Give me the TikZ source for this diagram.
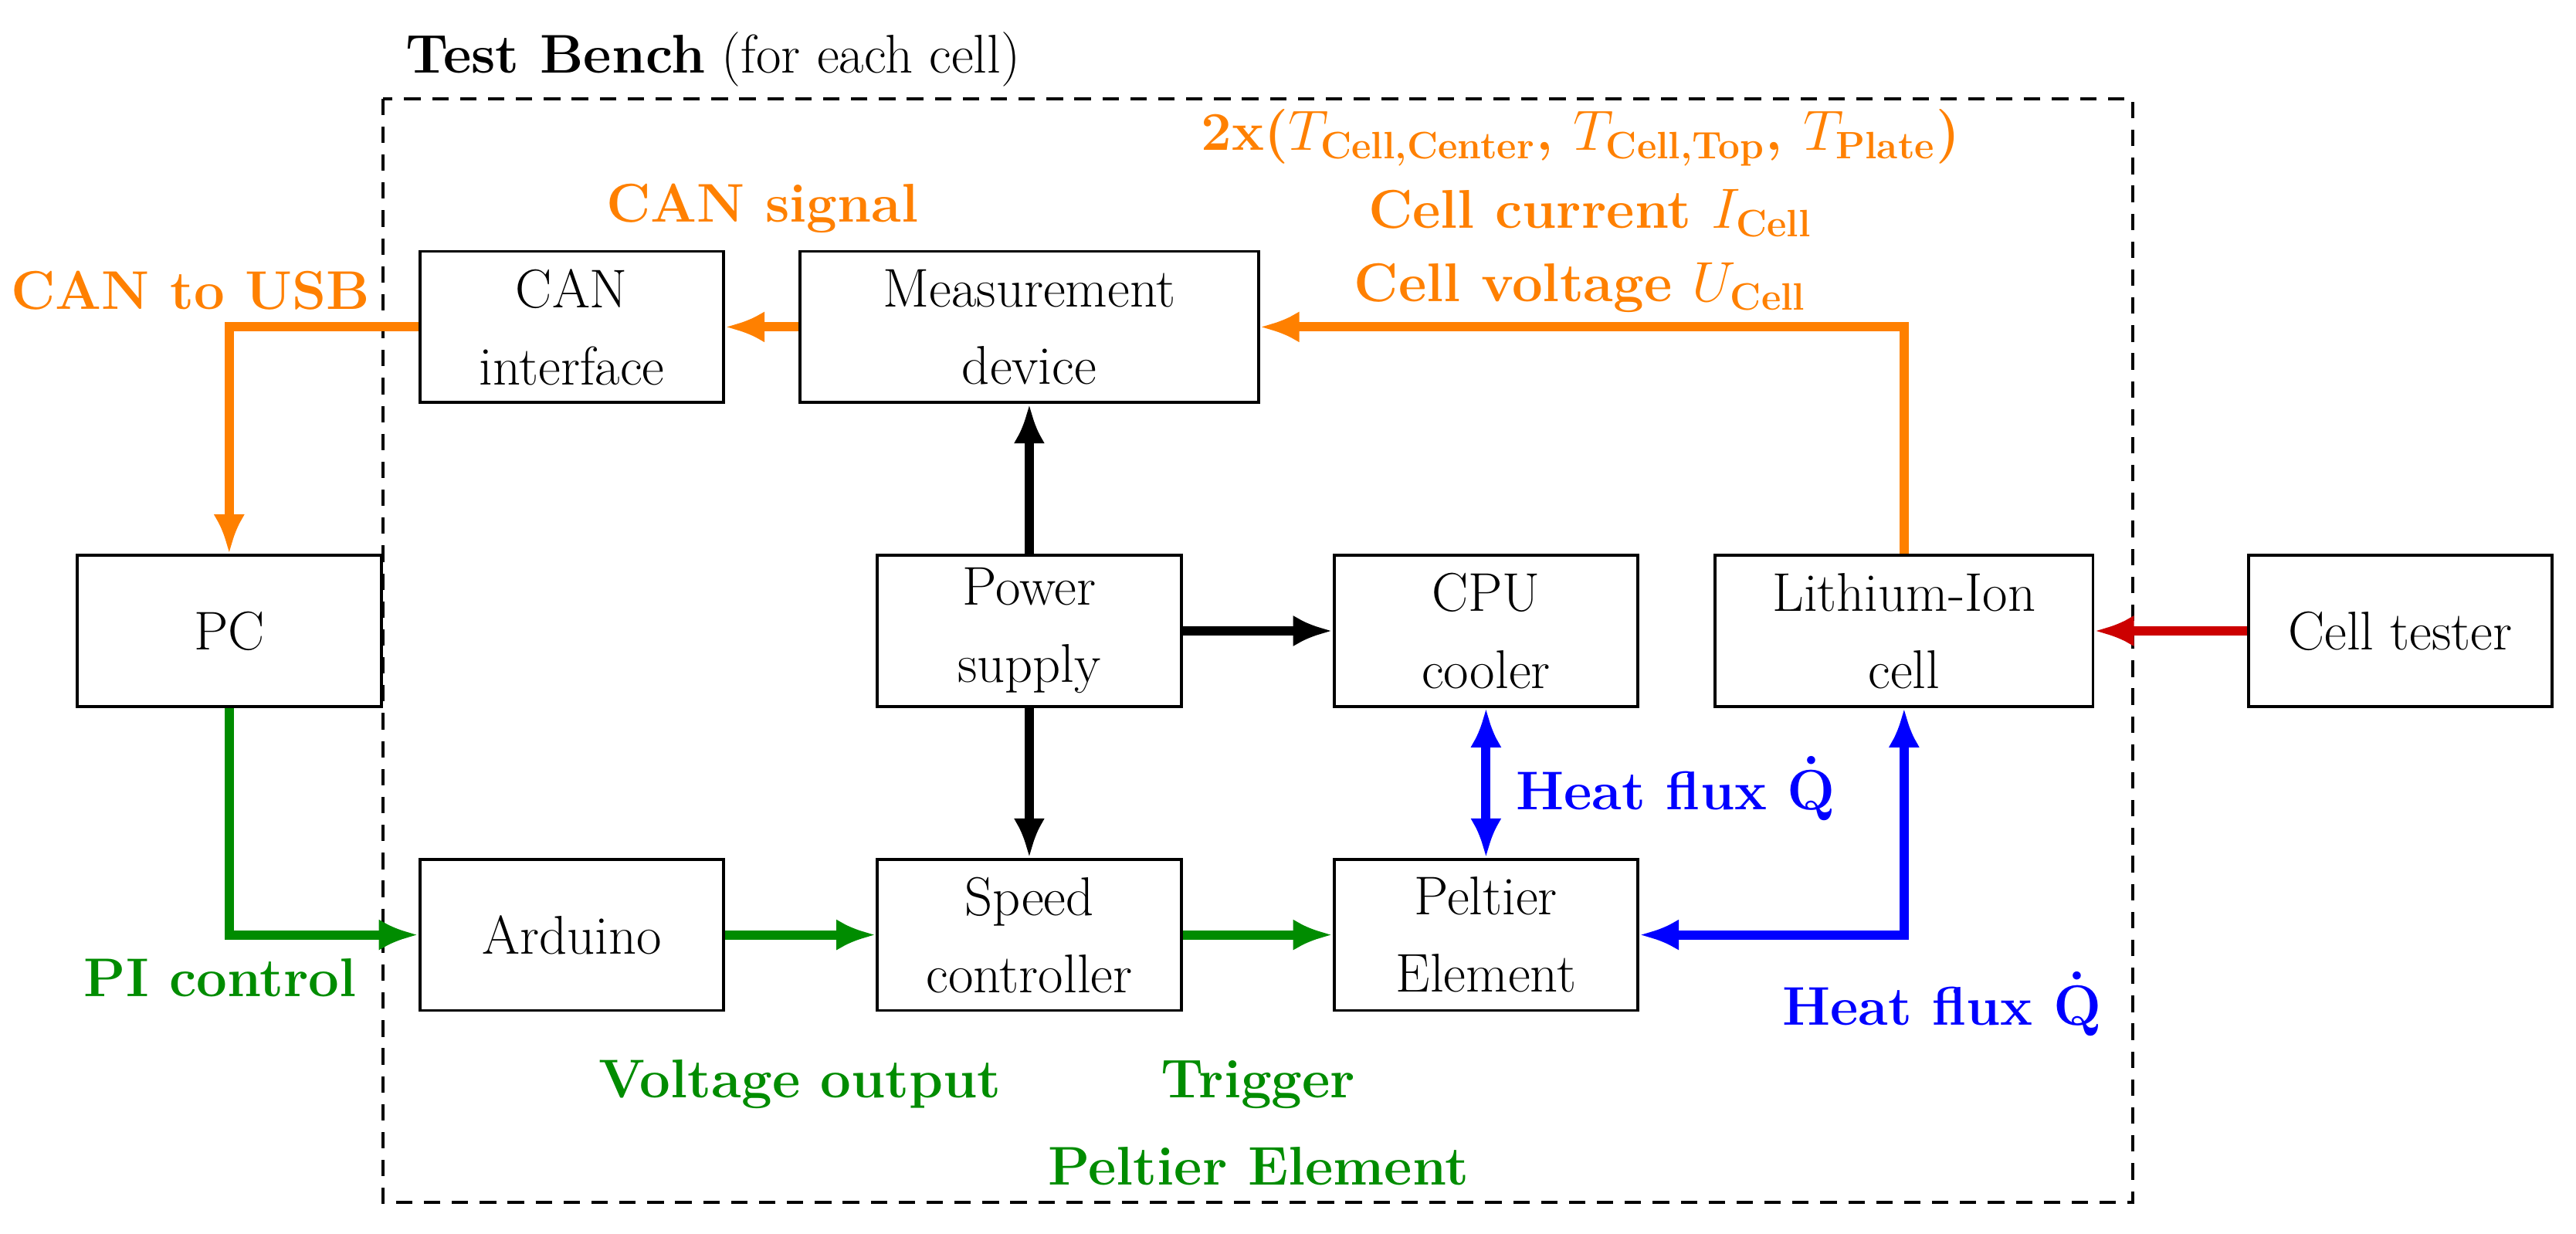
\documentclass[tikz,border=0pt]{standalone}
\usepackage{amsmath}
\usetikzlibrary{arrows.meta}
\definecolor{org}{RGB}{255,128,0}
\definecolor{grn}{RGB}{0,140,0}
\definecolor{blu}{RGB}{0,0,255}
\definecolor{rd}{RGB}{204,0,0}
\begin{document}
\begin{tikzpicture}[x=0.5pt,y=-0.5pt,
  every node/.style={font=\fontsize{16.6}{23.5}\selectfont},
  box/.style={draw,line width=0.9pt,minimum width=92.5pt,minimum height=46pt,align=center,inner sep=0pt},
  con/.style={line width=2.8pt,-{Latex[length=12pt,width=9.5pt]}},
  bcon/.style={line width=2.8pt,{Latex[length=12pt,width=9.5pt]}-{Latex[length=12pt,width=9.5pt]}},
  lab/.style={font=\fontsize{16.6}{23.5}\selectfont\bfseries}]
\useasboundingbox (0,0) rectangle (1568,751);
\draw[dashed,line width=0.9pt,dash pattern=on 5pt off 3.5pt] (233,60) rectangle (1298,732);
\node[anchor=west] (title) at (240,36) {\textbf{Test Bench} (for each cell)};
\node[box] (can) at (348,199) {CAN\\interface};
\node[box,minimum width=139.5pt] (meas) at (626.5,199) {Measurement\\device};
\node[box] (pc) at (139.5,384) {PC};
\node[box] (ps) at (626.5,384) {Power\\supply};
\node[box] (cpu) at (904.5,384) {CPU\\cooler};
\node[box,minimum width=115pt] (li) at (1159,384) {Lithium-Ion\\cell};
\node[box] (ct) at (1461,384) {Cell tester};
\node[box] (ard) at (348,569) {Arduino};
\node[box] (sc) at (626.5,569) {Speed\\controller};
\node[box] (pe) at (904.5,569) {Peltier\\Element};
\coordinate (c1) at (139.5,199);
\coordinate (c2) at (1159,199);
\coordinate (c3) at (139.5,569);
\coordinate (c4) at (1159,569);
% orange
\draw[con,org] (can.west) -- (c1) -- (pc.north);
\draw[con,org] (meas.west) -- (can.east);
\draw[con,org] (li.north) -- (c2) -- (meas.east);
\node[lab,text=org] (l1) at (464,127) {CAN signal};
\node[lab,text=org] (l2) at (116,177) {CAN to USB};
\node[lab,text=org] (l3) at (962,84) {2x($T_{\textbf{Cell,Center}}$, $T_{\textbf{Cell,Top}}$, $T_{\textbf{Plate}}$)};
\node[lab,text=org] (l4) at (968,130) {Cell current $I_{\textbf{Cell}}$};
\node[lab,text=org] (l5) at (962,175) {Cell voltage $U_{\textbf{Cell}}$};
% black
\draw[con] (ps.north) -- (meas.south);
\draw[con] (ps.east) -- (cpu.west);
\draw[con] (ps.south) -- (sc.north);
% red
\draw[con,rd] (ct.west) -- (li.east);
% blue
\draw[bcon,blu] (cpu.south) -- (pe.north);
\draw[bcon,blu] (pe.east) -- (c4) -- (li.south);
\node[lab,text=blu] (l6) at (1020,480) {Heat flux $\boldsymbol{\dot{\mathrm{Q}}}$};
\node[lab,text=blu] (l7) at (1182,611) {Heat flux $\boldsymbol{\dot{\mathrm{Q}}}$};
% green
\draw[con,grn] (pc.south) -- (c3) -- (ard.west);
\draw[con,grn] (ard.east) -- (sc.west);
\draw[con,grn] (sc.east) -- (pe.west);
\node[lab,text=grn] (l8) at (134,595) {PI control};
\node[lab,text=grn] (l9) at (487,660) {Voltage output};
\node[lab,text=grn] (l10) at (766,660) {Trigger};
\node[lab,text=grn] (l11) at (766,710) {Peltier Element};
\end{tikzpicture}
\end{document}
